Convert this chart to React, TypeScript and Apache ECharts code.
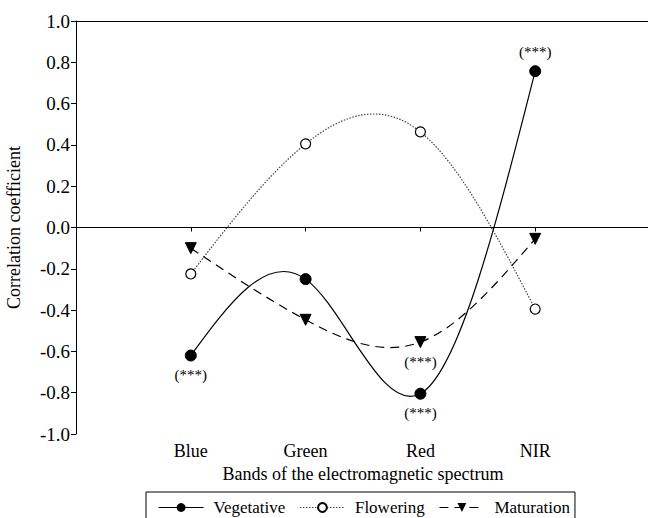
import React, { useEffect, useRef } from "react";
import * as echarts from "echarts";

const bands = ["Blue", "Green", "Red", "NIR"];
const vegetative = [-0.62, -0.25, -0.805, 0.757];
const flowering = [-0.225, 0.405, 0.463, -0.395];
const maturation = [-0.1, -0.447, -0.555, -0.055];
const yTicks = [-1, -0.8, -0.6, -0.4, -0.2, 0, 0.2, 0.4, 0.6, 0.8, 1];
const vegSig: Record<string, string> = { Blue: "bottom", Red: "bottom", NIR: "top" };
const matSig: Record<string, string> = { Red: "bottom" };

const FONT = "Liberation Serif";
const categories = ["", ...bands, ""];

const vegLine = { color: "#000", width: 1.2, type: "solid" as any };
const floLine = { color: "#444", width: 1.2, type: [1.5, 1.5] as any };
const matLine = { color: "#000", width: 1.2, type: [9, 6] as any };

// natural cubic spline second derivatives for 4 equally spaced points
function splineM(y: number[]) {
  const a = 6 * (y[0] - 2 * y[1] + y[2]);
  const b = 6 * (y[1] - 2 * y[2] + y[3]);
  const m1 = (4 * a - b) / 15;
  const m2 = (4 * b - a) / 15;
  return [0, m1, m2, 0];
}

function mkData(values: number[], sig: Record<string, string>) {
  return bands.map((b, i) => {
    const item: any = { value: [b, values[i]] };
    if (sig[b]) {
      item.label = {
        show: true,
        position: sig[b],
        formatter: "(***)",
        distance: 6,
        fontFamily: FONT,
        fontSize: 15,
        color: "#000",
      };
    }
    return item;
  });
}

function curveSeries(name: string, values: number[], ls: any) {
  const M = splineM(values);
  return {
    name: name + " curve",
    type: "custom",
    coordinateSystem: "cartesian2d",
    silent: true,
    z: 1,
    data: bands.map((b, i) => [b, values[i]]),
    encode: { x: 0, y: 1 },
    renderItem: (params: any, api: any) => {
      const i = params.dataIndex;
      if (i >= values.length - 1) return null;
      const y0 = values[i];
      const y1 = values[i + 1];
      const d0 = y1 - y0 - (2 * M[i] + M[i + 1]) / 6;
      const d1 = y1 - y0 + (M[i] + 2 * M[i + 1]) / 6;
      const p0 = api.coord([bands[i], y0]);
      const p1 = api.coord([bands[i + 1], y1]);
      const c0y = api.coord([bands[i], y0 + d0 / 3])[1];
      const c1y = api.coord([bands[i + 1], y1 - d1 / 3])[1];
      const dx = p1[0] - p0[0];
      return {
        type: "bezierCurve",
        shape: {
          x1: p0[0],
          y1: p0[1],
          x2: p1[0],
          y2: p1[1],
          cpx1: p0[0] + dx / 3,
          cpy1: c0y,
          cpx2: p1[0] - dx / 3,
          cpy2: c1y,
        },
        style: {
          stroke: ls.color,
          lineWidth: ls.width,
          lineDash: Array.isArray(ls.type) ? ls.type : null,
          fill: null,
        },
      };
    },
  };
}

export default function App() {
  const ref = useRef<HTMLDivElement>(null);
  useEffect(() => {
    if (!ref.current) return;
    const chart = echarts.init(ref.current, null, { renderer: "svg" });
    chart.setOption({
      animation: false,
      backgroundColor: "#fff",
      textStyle: { fontFamily: FONT, color: "#000" },
      grid: { left: 76, top: 21, width: 574, height: 413, outerBoundsMode: "none", containLabel: false },
      legend: {
        left: 146,
        top: 492,
        padding: [7, 5, 7, 12],
        itemGap: 14,
        itemWidth: 45,
        itemHeight: 11,
        borderColor: "#000",
        borderWidth: 1,
        textStyle: { fontFamily: FONT, fontSize: 17, color: "#000", padding: [0, 0, 0, 5] },
        data: [
          { name: "Vegetative", lineStyle: { ...vegLine, opacity: 1 } },
          { name: "Flowering", lineStyle: { ...floLine, opacity: 1 } },
          { name: "Maturation", lineStyle: { ...matLine, opacity: 1 } },
        ],
      },
      xAxis: {
        type: "category",
        data: categories,
        boundaryGap: false,
        name: "Bands of the electromagnetic spectrum",
        nameLocation: "middle",
        nameGap: 31,
        nameTextStyle: { fontFamily: FONT, fontSize: 18, color: "#000" },
        axisLine: { lineStyle: { color: "#000", width: 1 } },
        axisTick: {
          length: 4,
          lineStyle: { color: "#000" },
          interval: (idx: number, val: string) => val !== "",
        },
        axisLabel: { fontFamily: FONT, fontSize: 18, color: "#000", margin: 8, interval: 0 },
        splitLine: { show: false },
      },
      yAxis: {
        type: "value",
        min: -1,
        max: 1,
        interval: 0.2,
        name: "Correlation coefficient",
        nameLocation: "middle",
        nameGap: 53,
        nameTextStyle: { fontFamily: FONT, fontSize: 18, color: "#000" },
        axisLine: { show: true, lineStyle: { color: "#000", width: 1 } },
        axisTick: { show: true, length: 5, lineStyle: { color: "#000" } },
        axisLabel: {
          fontFamily: FONT,
          fontSize: 19,
          color: "#000",
          margin: 6,
          formatter: (v: number) => {
            const t = yTicks.find((x) => Math.abs(x - v) < 1e-6);
            return (t ?? v).toFixed(1);
          },
        },
        splitLine: { show: false },
      },
      series: [
        curveSeries("Vegetative", vegetative, vegLine),
        curveSeries("Flowering", flowering, floLine),
        curveSeries("Maturation", maturation, matLine),
        {
          name: "Vegetative",
          type: "line",
          symbol: "circle",
          symbolSize: 11,
          itemStyle: { color: "#000", borderColor: "#000" },
          lineStyle: { ...vegLine, opacity: 0 },
          data: mkData(vegetative, vegSig),
          markLine: {
            silent: true,
            symbol: "none",
            label: { show: false },
            lineStyle: { color: "#000", width: 1, type: "solid", opacity: 1 },
            data: [{ yAxis: 0 }, { yAxis: 1 }],
          },
          z: 3,
        },
        {
          name: "Flowering",
          type: "line",
          symbol: "circle",
          symbolSize: 10,
          itemStyle: { color: "#fff", borderColor: "#000", borderWidth: 1.2 },
          lineStyle: { ...floLine, opacity: 0 },
          data: mkData(flowering, {}),
          z: 3,
        },
        {
          name: "Maturation",
          type: "line",
          symbol: "triangle",
          symbolRotate: 180,
          symbolSize: 11,
          itemStyle: { color: "#000", borderColor: "#000" },
          lineStyle: { ...matLine, opacity: 0 },
          data: mkData(maturation, matSig),
          z: 3,
        },
      ],
    });
    return () => chart.dispose();
  }, []);
  return <div ref={ref} style={{ width: 648, height: 518, position: "absolute", left: 0, top: 0 }} />;
}
